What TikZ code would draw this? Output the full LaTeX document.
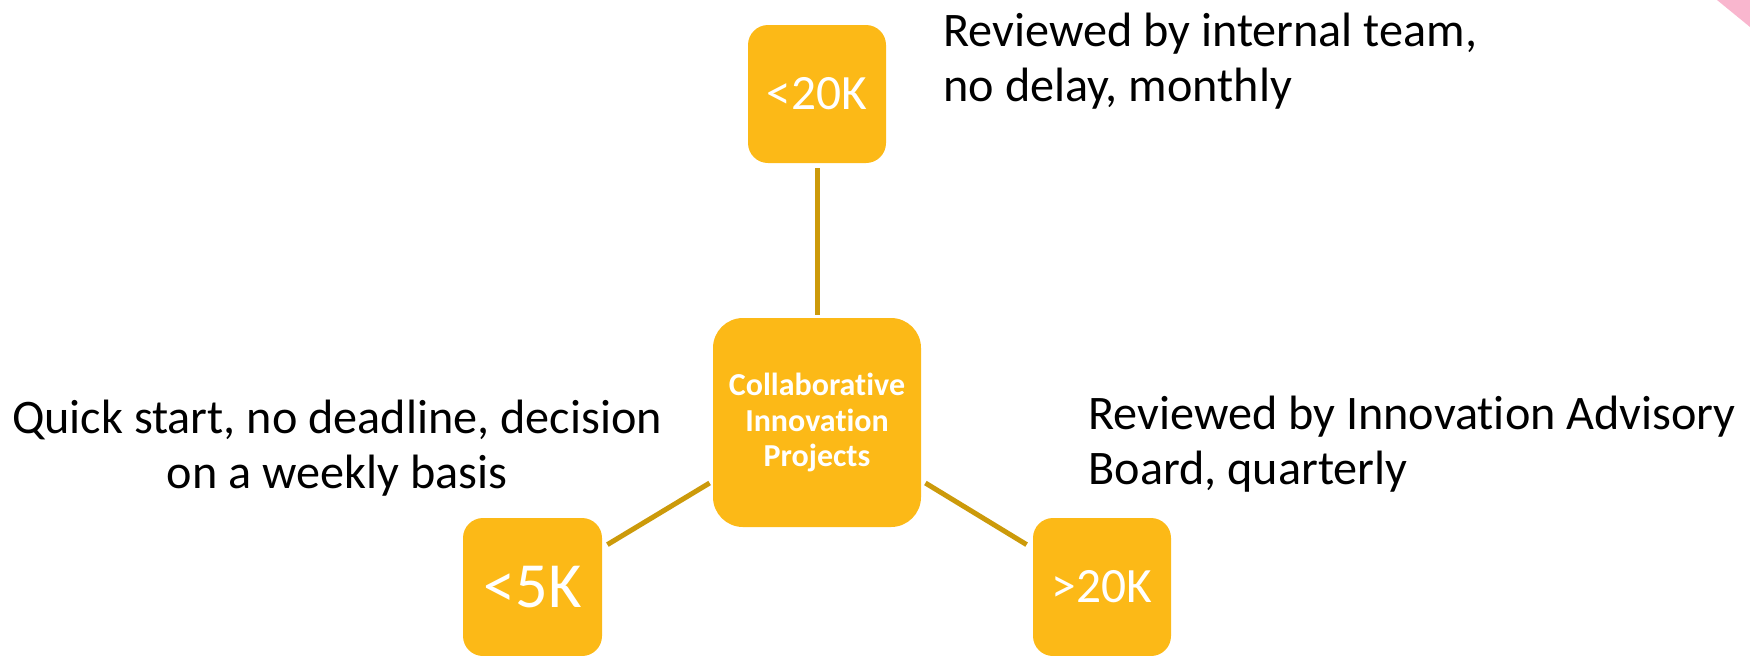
\documentclass[tikz,border=0pt]{standalone}
\usepackage{fontspec}
\setmainfont[RawFeature=-liga]{Carlito}
\usetikzlibrary{calc}
\definecolor{boxfill}{HTML}{FCB917}
\definecolor{linkcol}{HTML}{CC9A0A}
\definecolor{cornerpink}{HTML}{F9B6CE}
\tikzset{
  gbox/.style={fill=boxfill, draw=none, rounded corners=10pt, text=white, inner sep=0pt, align=center},
  smallbox/.style={gbox, minimum width=69pt, minimum height=69pt},
  link/.style={draw=linkcol, line width=2.5pt},
  desc/.style={inner sep=0pt, font=\fontsize{24.1}{27.5}\selectfont}
}
\begin{document}
\begin{tikzpicture}[x=0.5pt,y=-0.5pt]
\useasboundingbox (0,0) rectangle (1750,655);
\fill[cornerpink] (1717,0) -- (1750,0) -- (1750,27) -- cycle;
\node[gbox, minimum width=104pt, minimum height=104.5pt, rounded corners=15pt, font=\bfseries\fontsize{16}{17.6}\selectfont] (ctr) at (817,422.5) {Collaborative\\Innovation\\Projects};
\node[smallbox, font=\fontsize{24.7}{28}\selectfont] (top) at (817,94) {<20K};
\node[smallbox, minimum width=69.5pt, font=\fontsize{32.2}{36}\selectfont] (bl) at (532.5,587) {<5K};
\node[smallbox, font=\fontsize{24.7}{28}\selectfont] (br) at (1102,587) {>20K};
\draw[link] ($(top.south)+(0,5)$) -- ($(ctr.north)+(0,-3)$);
\draw[link] ($(bl.north east)+(5,27)$) -- ($(ctr.west)+(-3,60.5)$);
\draw[link] ($(ctr.east)+(4,60.5)$) -- ($(br.north west)+(-6,27)$);
\node[desc, anchor=north west, align=left] (ttext) at (943,13) {Reviewed by internal team,\\no delay, monthly};
\node[desc, anchor=north west, align=left] (rtext) at (1088,396) {Reviewed by Innovation Advisory\\Board, quarterly};
\node[desc, anchor=north, align=center] (ltext) at (337,400) {Quick start, no deadline, decision\\on a weekly basis};
\end{tikzpicture}
\end{document}
